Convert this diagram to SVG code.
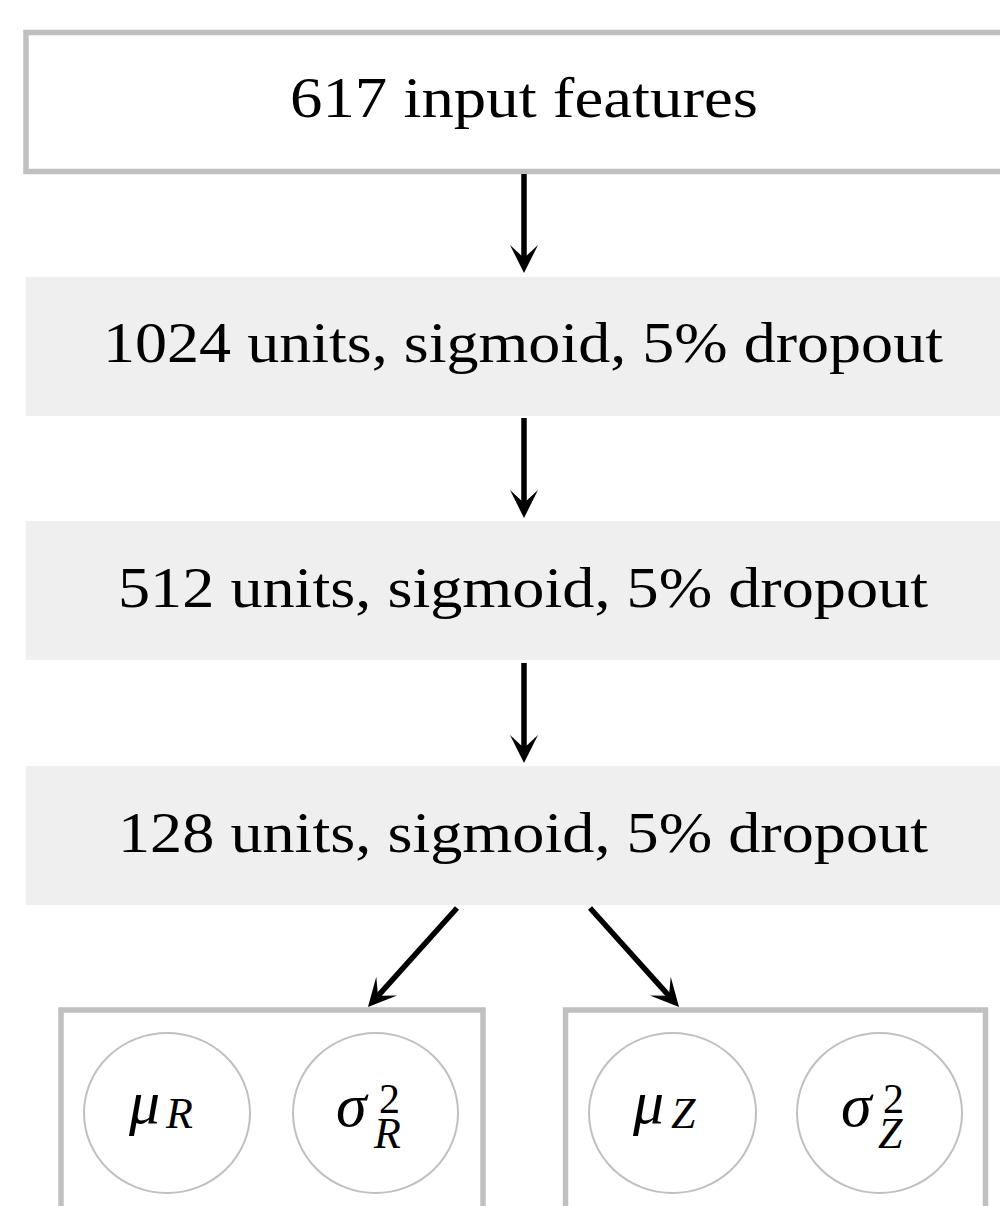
<svg xmlns="http://www.w3.org/2000/svg" width="1000" height="1206" viewBox="0 0 1000 1206">
  <style>
    .frame { fill: #ffffff; stroke: #c0c0c0; stroke-width: 5.5; }
    .layer { fill: #efefef; stroke: none; }
    .unit { fill: #ffffff; stroke: #c0c0c0; stroke-width: 2; }
    .label { font-family: "Liberation Serif", "DejaVu Serif", serif; font-size: 57px; fill: #000000; }
    .math { font-family: "Liberation Serif", "DejaVu Serif", serif; font-style: italic; font-size: 62px; fill: #000000; }
    .idx { font-size: 44px; }
    .pow { font-size: 42px; font-style: normal; }
    .edge { stroke: #000000; stroke-width: 5.5; fill: none; marker-end: url(#stealth); }
  </style>
  <defs>
    <marker id="stealth" markerUnits="userSpaceOnUse" markerWidth="40" markerHeight="40" viewBox="-20 -20 40 40" refX="0" refY="0" orient="auto" overflow="visible">
      <path d="M15,0 L-13,-14 L0,0 L-13,14 Z" fill="#000000"/>
    </marker>
  </defs>

  <g id="input">
    <rect class="frame" x="26" y="32.5" width="990" height="139"/>
    <text class="label" x="290" y="117" textLength="468" lengthAdjust="spacingAndGlyphs">617 input features</text>
  </g>

  <g id="hidden1">
    <rect class="layer" x="26" y="277" width="990" height="139"/>
    <text class="label" x="103" y="362" textLength="840" lengthAdjust="spacingAndGlyphs">1024 units, sigmoid, 5% dropout</text>
  </g>

  <g id="hidden2">
    <rect class="layer" x="26" y="521" width="990" height="139"/>
    <text class="label" x="118" y="607" textLength="810" lengthAdjust="spacingAndGlyphs">512 units, sigmoid, 5% dropout</text>
  </g>

  <g id="hidden3">
    <rect class="layer" x="26" y="766" width="990" height="139"/>
    <text class="label" x="118" y="852" textLength="810" lengthAdjust="spacingAndGlyphs">128 units, sigmoid, 5% dropout</text>
  </g>

  <g id="outputR">
    <rect class="frame" x="61" y="1010" width="422" height="220"/>
    <ellipse class="unit" cx="167" cy="1113" rx="83" ry="80"/>
    <text class="math" x="129" y="1123">μ<tspan class="idx" x="166" y="1128">R</tspan></text>
    <ellipse class="unit" cx="375.5" cy="1113" rx="82.5" ry="80"/>
    <text class="math" x="336" y="1126">σ<tspan class="pow" x="379" y="1113">2</tspan><tspan class="idx" x="374" y="1148">R</tspan></text>
  </g>

  <g id="outputZ">
    <rect class="frame" x="565.5" y="1010" width="420" height="220"/>
    <ellipse class="unit" cx="672.5" cy="1113" rx="83.5" ry="80"/>
    <text class="math" x="633" y="1123">μ<tspan class="idx" x="671" y="1128">Z</tspan></text>
    <ellipse class="unit" cx="879.5" cy="1113" rx="82.5" ry="80"/>
    <text class="math" x="841" y="1126">σ<tspan class="pow" x="883" y="1113">2</tspan><tspan class="idx" x="878" y="1148">Z</tspan></text>
  </g>

  <g id="connectors">
    <line class="edge" x1="524" y1="174" x2="524" y2="258"/>
    <line class="edge" x1="524" y1="418" x2="524" y2="503"/>
    <line class="edge" x1="524" y1="663" x2="524" y2="748"/>
    <line class="edge" x1="457" y1="908" x2="378" y2="995.8"/>
    <line class="edge" x1="590" y1="908" x2="669" y2="995.8"/>
  </g>
</svg>
